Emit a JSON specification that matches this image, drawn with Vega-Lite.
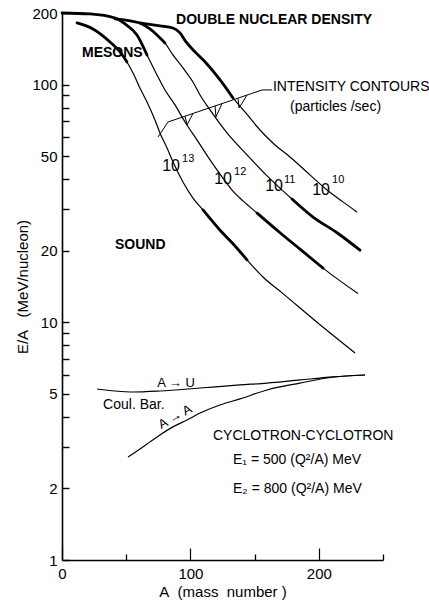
{
  "$schema": "https://vega.github.io/schema/vega-lite/v6.json",
  "width": 321,
  "height": 547,
  "autosize": {"type": "none"},
  "padding": {"left": 62, "top": 13, "right": 46, "bottom": 45},
  "background": "white",
  "config": {
    "view": {"stroke": null},
    "font": "Liberation Sans",
    "axis": {"grid": false, "domainColor": "black", "domainWidth": 1.6, "tickColor": "black", "tickWidth": 1.2, "labelColor": "black", "titleColor": "black", "labelFont": "Liberation Sans", "titleFont": "Liberation Sans", "labelFontSize": 15, "titleFontSize": 15, "titleFontWeight": "normal", "labelOverlap": false, "labelFlush": false},
    "line": {"color": "black"},
    "text": {"color": "black"}
  },
  "datasets": {
    "curves": [
      {"curve": "13", "part": "k13a", "A": 11.7, "E": 181.6},
      {"curve": "13", "part": "k13a", "A": 24.1, "E": 171.4},
      {"curve": "13", "part": "k13a", "A": 37.4, "E": 151.1},
      {"curve": "13", "part": "k13a", "A": 45.2, "E": 137.2},
      {"curve": "13", "part": "k13a", "A": 50.6, "E": 124.5},
      {"curve": "13", "part": "thin", "A": 56.1, "E": 109.7},
      {"curve": "13", "part": "thin", "A": 60.7, "E": 96.7},
      {"curve": "13", "part": "thin", "A": 66.2, "E": 84.5},
      {"curve": "13", "part": "thin", "A": 72.4, "E": 71.0},
      {"curve": "13", "part": "thin", "A": 76.3, "E": 62.6},
      {"curve": "13", "part": "thin", "A": 81.8, "E": 54.1},
      {"curve": "13", "part": "thin", "A": 87.2, "E": 46.3},
      {"curve": "13", "part": "thin", "A": 94.2, "E": 38.9},
      {"curve": "13", "part": "thin", "A": 102.0, "E": 33.3},
      {"curve": "13", "part": "k13b", "A": 109.8, "E": 29.7},
      {"curve": "13", "part": "k13b", "A": 123.1, "E": 24.4},
      {"curve": "13", "part": "k13b", "A": 133.2, "E": 21.4},
      {"curve": "13", "part": "k13b", "A": 144.1, "E": 18.3},
      {"curve": "13", "part": "thin", "A": 156.5, "E": 15.5},
      {"curve": "13", "part": "thin", "A": 172.1, "E": 13.2},
      {"curve": "13", "part": "thin", "A": 198.6, "E": 10.0},
      {"curve": "13", "part": "thin", "A": 228.2, "E": 7.43},
      {"curve": "12", "part": "k12a", "A": 0, "E": 200},
      {"curve": "12", "part": "k12a", "A": 21.8, "E": 198.2},
      {"curve": "12", "part": "k12a", "A": 41.3, "E": 190.6},
      {"curve": "12", "part": "k12a", "A": 49.1, "E": 179.9},
      {"curve": "12", "part": "k12a", "A": 58.4, "E": 161.7},
      {"curve": "12", "part": "k12a", "A": 66.2, "E": 133.2},
      {"curve": "12", "part": "thin", "A": 74.0, "E": 109.7},
      {"curve": "12", "part": "thin", "A": 80.2, "E": 94.9},
      {"curve": "12", "part": "thin", "A": 88.0, "E": 82.1},
      {"curve": "12", "part": "thin", "A": 95.8, "E": 69.6},
      {"curve": "12", "part": "thin", "A": 105.1, "E": 58.5},
      {"curve": "12", "part": "thin", "A": 115.3, "E": 48.2},
      {"curve": "12", "part": "thin", "A": 124.6, "E": 40.9},
      {"curve": "12", "part": "thin", "A": 132.4, "E": 36.0},
      {"curve": "12", "part": "thin", "A": 141.0, "E": 32.4},
      {"curve": "12", "part": "k12b", "A": 151.9, "E": 28.8},
      {"curve": "12", "part": "k12b", "A": 169.8, "E": 23.8},
      {"curve": "12", "part": "k12b", "A": 185.4, "E": 20.3},
      {"curve": "12", "part": "k12b", "A": 203.3, "E": 16.9},
      {"curve": "12", "part": "thin", "A": 230.5, "E": 13.2},
      {"curve": "11", "part": "k11a", "A": 41.3, "E": 188.8},
      {"curve": "11", "part": "k11a", "A": 53.0, "E": 185.2},
      {"curve": "11", "part": "k11a", "A": 62.3, "E": 179.9},
      {"curve": "11", "part": "k11a", "A": 68.5, "E": 171.4},
      {"curve": "11", "part": "k11a", "A": 74.0, "E": 161.7},
      {"curve": "11", "part": "k11a", "A": 80.2, "E": 149.6},
      {"curve": "11", "part": "thin", "A": 86.4, "E": 133.2},
      {"curve": "11", "part": "thin", "A": 94.2, "E": 117.5},
      {"curve": "11", "part": "thin", "A": 102.0, "E": 102.5},
      {"curve": "11", "part": "thin", "A": 107.5, "E": 90.4},
      {"curve": "11", "part": "thin", "A": 115.3, "E": 78.2},
      {"curve": "11", "part": "thin", "A": 128.5, "E": 62.6},
      {"curve": "11", "part": "thin", "A": 144.1, "E": 50.6},
      {"curve": "11", "part": "thin", "A": 159.7, "E": 41.3},
      {"curve": "11", "part": "thin", "A": 172.1, "E": 35.7},
      {"curve": "11", "part": "k11b", "A": 179.1, "E": 33.0},
      {"curve": "11", "part": "k11b", "A": 195.5, "E": 27.7},
      {"curve": "11", "part": "k11b", "A": 214.2, "E": 23.8},
      {"curve": "11", "part": "k11b", "A": 232.1, "E": 20.1},
      {"curve": "10", "part": "k10a", "A": 60.7, "E": 181.6},
      {"curve": "10", "part": "k10a", "A": 76.3, "E": 176.4},
      {"curve": "10", "part": "k10a", "A": 86.4, "E": 173.0},
      {"curve": "10", "part": "k10a", "A": 91.9, "E": 164.9},
      {"curve": "10", "part": "k10a", "A": 96.6, "E": 151.1},
      {"curve": "10", "part": "k10a", "A": 103.6, "E": 137.2},
      {"curve": "10", "part": "k10a", "A": 112.9, "E": 122.1},
      {"curve": "10", "part": "k10a", "A": 123.1, "E": 104.6},
      {"curve": "10", "part": "k10a", "A": 133.2, "E": 87.8},
      {"curve": "10", "part": "thin", "A": 142.5, "E": 76.7},
      {"curve": "10", "part": "thin", "A": 154.2, "E": 64.4},
      {"curve": "10", "part": "thin", "A": 165.9, "E": 55.7},
      {"curve": "10", "part": "thin", "A": 177.6, "E": 49.6},
      {"curve": "10", "part": "thin", "A": 193.1, "E": 41.7},
      {"curve": "10", "part": "thin", "A": 206.4, "E": 36.0},
      {"curve": "10", "part": "thin", "A": 218.8, "E": 32.1},
      {"curve": "10", "part": "thin", "A": 229.8, "E": 29.1}
    ],
    "coul": [
      {"curve": "AU", "A": 27.3, "E": 5.24},
      {"curve": "AU", "A": 41.3, "E": 5.14},
      {"curve": "AU", "A": 55.3, "E": 5.09},
      {"curve": "AU", "A": 76.3, "E": 5.14},
      {"curve": "AU", "A": 107.5, "E": 5.29},
      {"curve": "AU", "A": 138.6, "E": 5.45},
      {"curve": "AU", "A": 159.7, "E": 5.55},
      {"curve": "AU", "A": 185.4, "E": 5.72},
      {"curve": "AU", "A": 211.1, "E": 5.89},
      {"curve": "AU", "A": 236.0, "E": 6.0},
      {"curve": "AA", "A": 51.4, "E": 2.71},
      {"curve": "AA", "A": 60.7, "E": 2.93},
      {"curve": "AA", "A": 68.5, "E": 3.14},
      {"curve": "AA", "A": 76.3, "E": 3.36},
      {"curve": "AA", "A": 86.4, "E": 3.63},
      {"curve": "AA", "A": 97.4, "E": 3.88},
      {"curve": "AA", "A": 107.5, "E": 4.15},
      {"curve": "AA", "A": 123.1, "E": 4.49},
      {"curve": "AA", "A": 138.6, "E": 4.76},
      {"curve": "AA", "A": 159.7, "E": 5.19},
      {"curve": "AA", "A": 185.4, "E": 5.55},
      {"curve": "AA", "A": 206.4, "E": 5.83},
      {"curve": "AA", "A": 236.0, "E": 6.0}
    ],
    "leader": [
      {"id": "main", "A": 74.8, "E": 60.2},
      {"id": "main", "A": 82.6, "E": 69.6},
      {"id": "main", "A": 155.8, "E": 94.9},
      {"id": "main", "A": 163.6, "E": 94.9},
      {"id": "v1", "A": 95.8, "E": 73.6},
      {"id": "v1", "A": 97.4, "E": 67.6},
      {"id": "v1", "A": 102.0, "E": 75.6},
      {"id": "v2", "A": 119.2, "E": 81.3},
      {"id": "v2", "A": 119.9, "E": 73.1},
      {"id": "v2", "A": 124.6, "E": 83.2},
      {"id": "v3", "A": 137.1, "E": 87.6},
      {"id": "v3", "A": 137.9, "E": 79.7},
      {"id": "v3", "A": 144.1, "E": 90.3}
    ],
    "bold": [
      {"label": "DOUBLE NUCLEAR DENSITY", "A": 88.8, "E": 187.0},
      {"label": "MESONS", "A": 15.6, "E": 135.8},
      {"label": "SOUND", "A": 41.3, "E": 21.1}
    ],
    "plain": [
      {"label": "INTENSITY CONTOURS", "A": 164.3, "E": 97.7},
      {"label": "(particles /sec)", "A": 177.6, "E": 80.5},
      {"label": "Coul. Bar.", "A": 32.0, "E": 4.49},
      {"label": "CYCLOTRON-CYCLOTRON", "A": 117.6, "E": 3.32},
      {"label": "E₁ = 500 (Q²/A) MeV", "A": 133.2, "E": 2.63},
      {"label": "E₂ = 800 (Q²/A) MeV", "A": 133.2, "E": 1.99}
    ],
    "au": [
      {"label": "A → U", "A": 88.8, "E": 5.55}
    ],
    "aa": [
      {"label": "A → A", "A": 88.0, "E": 4.0}
    ],
    "tens": [
      {"label": "10", "A": 91.9, "E": 45.5},
      {"label": "10", "A": 132.4, "E": 40.1},
      {"label": "10", "A": 172.1, "E": 37.4},
      {"label": "10", "A": 208.7, "E": 36.0}
    ],
    "exps": [
      {"label": "13", "A": 93.5, "E": 48.5},
      {"label": "12", "A": 134.0, "E": 43.0},
      {"label": "11", "A": 172.9, "E": 39.8},
      {"label": "10", "A": 210.3, "E": 39.7}
    ]
  },
  "resolve": {"axis": {"x": "independent"}},
  "layer": [
    {
      "encoding": {
        "x": {"field": "A", "type": "quantitative", "scale": {"domain": [0, 250], "nice": false, "zero": false}, "axis": {"orient": "bottom", "values": [0, 100, 200], "tickSize": -12, "labelPadding": 18, "format": "d", "title": "A\u00a0\u00a0(mass\u00a0\u00a0number\u00a0)", "titlePadding": 3}},
        "y": {"field": "E", "type": "quantitative", "scale": {"type": "log", "domain": [1, 200], "nice": false}, "axis": {"orient": "left", "values": [1, 2, 3, 4, 5, 6, 7, 8, 9, 10, 20, 30, 40, 50, 60, 70, 80, 90, 100, 200], "labelExpr": "indexof([1, 2, 5, 10, 20, 50, 100, 200], datum.value) >= 0 ? datum.label : ''", "ticks": true, "tickSize": -7, "tickWidth": 1.4, "tickOpacity": 1, "labelPadding": 12, "format": "d", "title": "E/A\u00a0\u00a0\u00a0(MeV/nucleon)", "titlePadding": 1}}
      },
      "layer": [
        {
          "data": {"name": "curves"},
          "mark": {"type": "line", "interpolate": "monotone", "strokeWidth": 1.2, "color": "black"},
          "encoding": {"detail": {"field": "curve"}}
        },
        {
          "data": {"name": "curves"},
          "transform": [{"filter": "datum.part != 'thin'"}],
          "mark": {"type": "line", "interpolate": "monotone", "strokeWidth": 2.8, "strokeCap": "round", "color": "black"},
          "encoding": {"detail": {"field": "part"}}
        },
        {
          "data": {"name": "coul"},
          "mark": {"type": "line", "interpolate": "monotone", "strokeWidth": 1.2, "color": "black"},
          "encoding": {"detail": {"field": "curve"}}
        },
        {
          "data": {"name": "leader"},
          "mark": {"type": "line", "strokeWidth": 1, "color": "black"},
          "encoding": {"detail": {"field": "id"}}
        },
        {
          "data": {"name": "bold"},
          "mark": {"type": "text", "align": "left", "baseline": "middle", "fontSize": 14, "fontWeight": "bold", "color": "black"},
          "encoding": {"text": {"field": "label"}}
        },
        {
          "data": {"name": "plain"},
          "mark": {"type": "text", "align": "left", "baseline": "middle", "fontSize": 14, "color": "black"},
          "encoding": {"text": {"field": "label"}}
        },
        {
          "data": {"name": "au"},
          "mark": {"type": "text", "align": "center", "baseline": "middle", "fontSize": 13, "color": "black"},
          "encoding": {"text": {"field": "label"}}
        },
        {
          "data": {"name": "aa"},
          "mark": {"type": "text", "align": "center", "baseline": "middle", "fontSize": 13, "angle": -29, "color": "black"},
          "encoding": {"text": {"field": "label"}}
        },
        {
          "data": {"name": "tens"},
          "mark": {"type": "text", "align": "right", "baseline": "middle", "fontSize": 16, "color": "black"},
          "encoding": {"text": {"field": "label"}}
        },
        {
          "data": {"name": "exps"},
          "mark": {"type": "text", "align": "left", "baseline": "middle", "fontSize": 11, "color": "black"},
          "encoding": {"text": {"field": "label"}}
        }
      ]
    },
    {
      "data": {"name": "coul"},
      "mark": {"type": "point", "opacity": 0},
      "encoding": {
        "x": {"field": "A", "type": "quantitative", "axis": {"orient": "bottom", "values": [50, 150, 250], "tickSize": -6, "tickWidth": 1.3, "labels": false, "domain": false, "title": null}},
        "y": {"field": "E", "type": "quantitative", "scale": {"type": "log"}}
      }
    }
  ]
}
